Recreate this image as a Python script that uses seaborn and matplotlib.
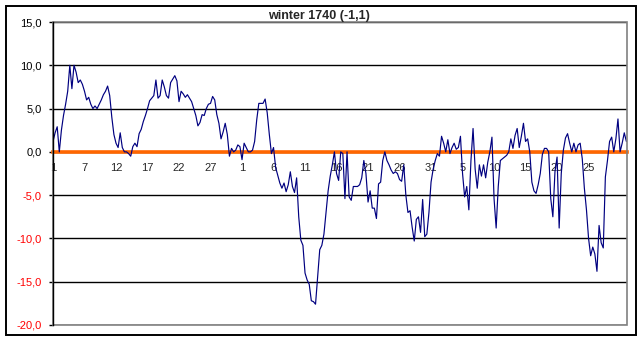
import numpy as np
import pandas as pd
import matplotlib
matplotlib.use("Agg")
import matplotlib.pyplot as plt
from matplotlib.patches import Rectangle
import seaborn as sns

# ---- data ----
temps_dec = [1.2, 2.2, 2.9, 0.0, 2.5, 4.2, 5.5, 7.0, 10.0, 7.3, 10.0, 9.2, 8.0, 8.3, 7.8,
             7.0, 6.0, 6.3, 5.5, 5.0, 5.3, 5.0, 5.5, 6.0, 6.6, 7.0, 7.6, 6.5, 4.0, 2.0,
             1.0, 0.5, 2.2, 0.5, 0.0, 0.0, -0.2, -0.5, 0.6, 1.0, 0.6, 2.1, 2.6, 3.5, 4.2,
             5.0, 5.9, 6.2, 6.5, 8.3, 6.2, 6.5, 8.3, 7.5, 6.5, 6.2, 8.0, 8.4, 8.8, 8.2,
             5.8, 7.0, 6.7, 6.3, 6.6, 6.2, 5.8, 5.0, 4.2, 3.0, 3.4, 4.3, 4.2, 5.0, 5.5,
             5.6, 6.4, 6.0, 4.3, 3.3, 1.5, 2.3, 3.3, 2.0, -0.5, 0.4, 0.0, 0.2, 0.8, 0.6]
temps_jan = [-0.9, 1.0, 0.5, 0.0, 0.0, 0.2, 1.2, 3.7, 5.6, 5.6, 5.6, 6.1, 4.5, 2.0, -0.2,
             0.5, -1.8, -2.7, -3.6, -4.2, -3.6, -4.6, -3.8, -2.3, -4.0, -4.7, -3.0, -7.5, -10.2, -10.8,
             -14.0, -14.8, -15.3, -17.2, -17.3, -17.6, -14.5, -11.3, -10.8, -9.5, -7.0, -4.5, -2.8, -1.5, 0.0,
             -2.5, -3.3, 0.0, -0.2, -5.4, 0.0, -5.2, -5.6, -4.0, -4.0, -4.0, -3.8, -3.0, -1.0, -2.5,
             -5.8, -4.5, -6.5, -6.5, -7.7, -3.7, -3.5, -1.0, 0.0, -1.0, -1.5, -2.1, -2.5, -2.3, -2.5,
             -3.2, -3.4, -1.5, -5.0, -7.0, -6.8, -8.7, -10.3, -7.8, -7.5, -9.3, -5.5, -9.8, -9.5, -7.0,
             -3.5, -2.0, -1.0]
temps_feb = [-0.2, -0.5, 1.8, 1.0, 0.0, 1.4, -0.2, 0.5, 1.0, 0.3, 0.5, 1.8,
             -2.5, -5.2, -4.0, -6.7, -1.0, 2.7, -2.0, -4.2, -1.5, -2.8, -1.5, -3.0, -1.2, 0.0, 1.7,
             -5.4, -8.8, -4.0, -1.0, -0.8, -0.6, -0.4, 0.0, 1.5, 0.4, 1.9, 2.7, 0.5, 1.8, 3.3,
             1.2, 1.5, 0.0, -3.5, -4.5, -4.8, -3.8, -2.5, -0.3, 0.4, 0.4, 0.0, -5.4, -7.5, -2.3,
             -0.6, -8.8, -2.5, 0.2, 1.6, 2.1, 1.0, 0.0, 1.0, 0.0, 0.8, 1.0, -0.8, -4.2, -6.7,
             -10.0, -12.0, -11.0, -11.8, -13.8, -8.5, -10.5, -11.1, -2.9, -1.0, 1.2, 1.7, 0.0, 1.5, 3.8,
             0.0, 1.0, 2.2, 1.2]

tick_labels = ["1", "7", "12", "17", "22", "27", "1", "6", "11", "16", "21", "26",
               "31", "5", "10", "15", "20", "25"]
tick_step = 15
y_ticks = [-20, -15, -10, -5, 0, 5, 10, 15]
title = "winter 1740 (-1,1)"

temps = temps_dec + temps_jan + temps_feb
df = pd.DataFrame({"obs": np.arange(len(temps)), "temp": temps})

# ---- style ----
sns.set_style("white")
plt.rcParams["font.family"] = ["Liberation Sans", "DejaVu Sans"]

fig = plt.figure(figsize=(6.43, 3.41), dpi=100)
fig.patch.set_facecolor("white")
ax = fig.add_axes([53 / 643, 1 - 325 / 341, (627 - 53) / 643, (325 - 22) / 341])

# gridlines
ax.set_axisbelow(True)
ax.grid(axis="y", color="black", linewidth=1.0)
ax.grid(axis="x", visible=False)

sns.lineplot(data=df, x="obs", y="temp", ax=ax, color="#000080", linewidth=0.85, zorder=3)

ax.set_xlim(0, 273.3)
ax.set_ylim(-20, 15)
ax.set_xlabel("")
ax.set_ylabel("")

ax.set_yticks(y_ticks)
ax.set_yticklabels([f"{v:.1f}".replace(".", ",") for v in y_ticks])
for lbl, v in zip(ax.get_yticklabels(), y_ticks):
    lbl.set_color("red" if v < 0 else "black")
ax.tick_params(axis="y", direction="out", length=3, width=1, color="black",
               pad=5, labelsize=8, left=True)

xt = list(range(0, tick_step * len(tick_labels), tick_step))
ax.set_xticks(xt)
ax.set_xticklabels(tick_labels)
ax.tick_params(axis="x", length=0, pad=8, labelsize=8, bottom=True)

# spines: left black, bottom at zero orange, others grey border
ax.spines["left"].set_color("black")
ax.spines["left"].set_linewidth(1.0)
ax.spines["left"].set_zorder(5)
ax.spines["bottom"].set_position(("data", 0))
ax.spines["bottom"].set_color("#FF6600")
ax.spines["bottom"].set_linewidth(2.6)
ax.spines["bottom"].set_zorder(2.5)
for s in ["top", "right"]:
    ax.spines[s].set_visible(False)
ax.add_patch(Rectangle((0, 0), 1, 1, transform=ax.transAxes, fill=False,
                       edgecolor="#808080", linewidth=1.2, zorder=4, clip_on=False))

# outer frame
fig.patches.append(Rectangle((6 / 643, 6 / 341), 630 / 643, 329 / 341,
                             transform=fig.transFigure, fill=False,
                             edgecolor="black", linewidth=1.4))

fig.text(319 / 643, 1 - 16 / 341, title, ha="center", va="center",
         fontsize=9, fontweight="bold")

fig.savefig("out.png", dpi=100, facecolor="white")
